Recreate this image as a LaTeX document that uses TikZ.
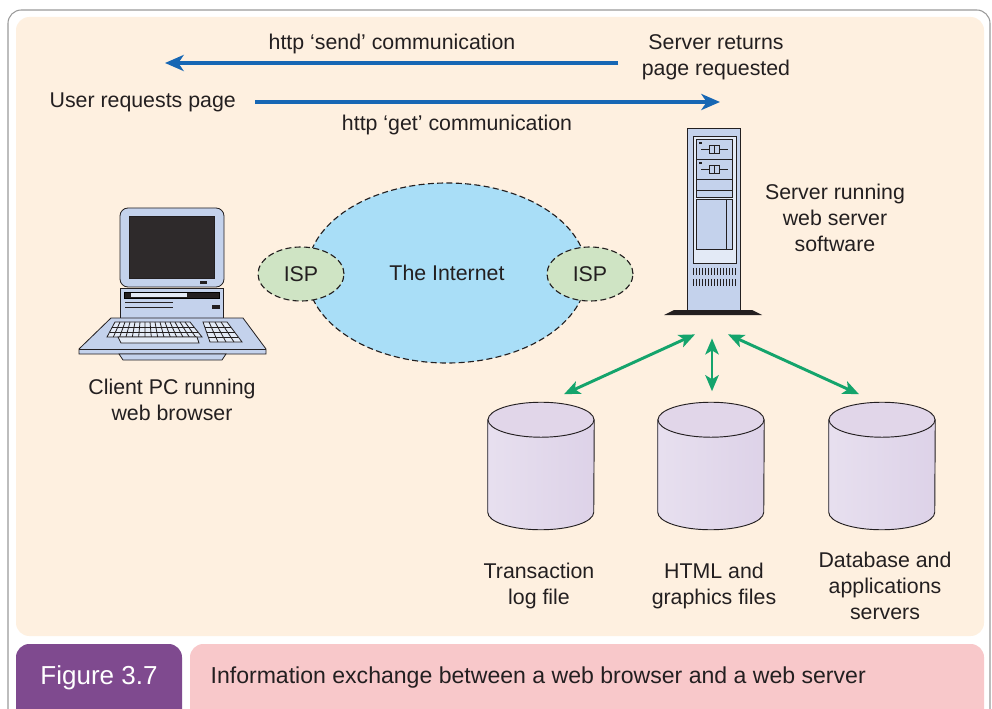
\documentclass[tikz,border=0pt]{standalone}
\usepackage{fontspec}
\setmainfont{Liberation Sans}
\usetikzlibrary{positioning,arrows.meta,shapes.geometric}
\definecolor{ink}{HTML}{231F20}
\definecolor{cream}{HTML}{FEF0E0}
\definecolor{framegray}{HTML}{9A9A9A}
\definecolor{httpblue}{HTML}{1767B4}
\definecolor{linkgreen}{HTML}{14A46C}
\definecolor{netblue}{HTML}{A9DEF7}
\definecolor{ispgreen}{HTML}{CFE4C4}
\definecolor{devblue}{HTML}{C4D2EC}
\definecolor{devlight}{HTML}{E3EAF6}
\definecolor{lavtop}{HTML}{E1D6E9}
\definecolor{lavbody}{HTML}{DDD2E8}
\definecolor{figpurple}{HTML}{7F4A8F}
\definecolor{figpink}{HTML}{F8C8CA}

% storage drum drawn over an empty node of the same size
\newcommand{\drum}[1]{%
  \draw[ink, line width=0.7pt, left color=lavbody!70, middle color=white, right color=lavbody]
    ([yshift=-13.125pt]#1.north west) -- ([yshift=13.125pt]#1.south west)
    arc[start angle=180, end angle=360, x radius=39.75pt, y radius=13.125pt]
    -- ([yshift=-13.125pt]#1.north east) -- cycle;
  \draw[ink, line width=0.7pt, fill=lavtop]
    ([yshift=-13.125pt]#1.north) ellipse [x radius=39.75pt, y radius=13.125pt];
}

\begin{document}
\begin{tikzpicture}[
    x=0.75pt, y=-0.75pt,
    every node/.style={font=\fontsize{16}{19.5}\selectfont, text=ink, inner sep=1pt},
    txt/.style={align=center},
    net/.style={ellipse, draw=ink, dash pattern=on 4.5pt off 2.5pt, line width=0.85pt, fill=netblue, minimum width=210pt, minimum height=135pt},
    isp/.style={ellipse, draw=ink, dash pattern=on 4.5pt off 2.5pt, line width=0.85pt, fill=ispgreen, minimum width=64.5pt, minimum height=40.5pt},
    dev/.style={draw=ink, line width=0.6pt, fill=devblue},
    tower/.style={draw=ink, line width=0.6pt, fill=devblue, minimum width=39.75pt, minimum height=136.5pt, inner sep=0pt},
    disk/.style={rectangle, minimum width=79.5pt, minimum height=95.25pt, inner sep=0pt},
    flow/.style={-{Stealth[length=14pt,width=12pt,inset=4pt]}, draw=httpblue, line width=2.6pt},
    link/.style={{Stealth[length=12pt,width=10pt,inset=3pt]}-{Stealth[length=12pt,width=10pt,inset=3pt]}, draw=linkgreen, line width=2.2pt}
  ]
  \clip (0,0) rectangle (992,709);

  % frame and panel
  \draw[framegray, line width=0.8pt, fill=white, rounded corners=10] (8,10) rectangle (990,740);
  \fill[cream, rounded corners=10] (16,17) rectangle (984,636);

  % http traffic
  \node (send) at (392,44) {http ‘send’ communication};
  \node[txt] (ret) at (716,57) {Server returns\\page requested};
  \node[anchor=west] (usr) at (48,102) {User requests page};
  \node (get) at (457,125) {http ‘get’ communication};
  \coordinate (sendend) at (165,63);
  \coordinate (getend) at (720,102);
  \draw[flow] ([shift={(-22,6)}]ret.west) -- (sendend);
  \draw[flow] ([shift={(18,0)}]usr.east) -- (getend);

  % client PC
  \draw[dev, rounded corners=6] (120,208) rectangle (224,287);
  \draw[ink, fill=ink!95] (129,216) rectangle (214,278);
  \fill[ink] (200,281) rectangle (207,284);
  \draw[dev] (120,288) rectangle (223,318);
  \draw[fill=ink] (124,292) rectangle (219,298);
  \fill[devlight] (131,293) rectangle (187,297);
  \draw[ink, line width=0.6pt] (125,302) -- (173,302) (125,307) -- (173,307);
  \fill[ink] (212,305) rectangle (220,309);
  \draw[dev] (111,318) -- (243,318) -- (266,349) -- (266,354) -- (79,354) -- (79,349) -- cycle;
  \draw[ink, line width=0.6pt] (79,349) -- (266,349);
  \draw[dev] (119,354) -- (226,354) -- (222,360) -- (123,360) -- cycle;
  % keyboard
  \draw[ink, fill=devlight, line width=0.6pt] (115,322) -- (190,322) -- (202,337) -- (107,337) -- cycle;
  \foreach \i in {1,...,14}
    \draw[ink, line width=0.6pt] (115+5*\i,322) -- (107+6.33*\i,337);
  \draw[ink, line width=0.6pt] (112.3,327) -- (194,327) (109.7,332) -- (198,332);
  \draw[ink, fill=devlight, line width=0.6pt] (118,337) -- (197,337) -- (199,343) -- (121,343) -- cycle;
  \draw[ink, fill=devlight, line width=0.6pt] (203,322) -- (227,322) -- (242,342) -- (210,342) -- cycle;
  \foreach \i in {1,2,3}
    \draw[ink, line width=0.6pt] (203+6*\i,322) -- (210+8*\i,342);
  \foreach \t in {0.25,0.5,0.75}
    \draw[ink, line width=0.6pt] (203+7*\t,322+20*\t) -- (227+15*\t,322+20*\t);
  \node[txt] (pc) at (172,400) {Client PC running\\web browser};

  % internet and ISPs
  \node[net] (inet) at (447,273) {The Internet};
  \node[isp] (ispl) at (301,274) {ISP};
  \node[isp] (ispr) at (590,274) {ISP};

  % web server
  \node[tower] (srv) at (713.5,219) {};
  \draw[ink, fill=devlight, line width=0.6pt] (693,136) rectangle (736,263);
  \foreach \y in {139,159} {
    \draw[dev] (696,\y) rectangle (732,\y+20);
    \fill[ink] (699,\y+3) rectangle (702,\y+5);
    \draw[ink, line width=0.5pt] (701,\y+10) -- (728,\y+10);
    \draw[ink, fill=devblue, line width=0.5pt] (709,\y+6) rectangle (719,\y+14);
    \draw[ink, line width=0.5pt] (714,\y+6) -- (714,\y+14);
  }
  \draw[dev] (696,179) rectangle (732,190);
  \draw[dev] (696,190) rectangle (732,197);
  \draw[dev] (696,199) rectangle (732,249);
  \draw[ink, line width=0.6pt] (726,199) -- (726,249);
  \foreach \x in {693,696,...,735}
    \draw[ink, line width=0.6pt] (\x,268) -- (\x,275) (\x,279) -- (\x,286);
  \fill[ink] (664,315) -- (674,310) -- (752,310) -- (762,315) -- cycle;
  \node[txt] (srvtxt) at (835,218) {Server running\\web server\\software};

  % storage
  \node[disk] (log) at (541,466) {};
  \node[disk] (html) at (711,466) {};
  \node[disk] (db) at (882,466) {};
  \drum{log}
  \drum{html}
  \drum{db}
  \node[txt] (logtxt) at (539,586) {Transaction\\log file};
  \node[txt] (htmltxt) at (714,586) {HTML and\\graphics files};
  \node[txt] (dbtxt) at (885,586) {Database and\\applications\\servers};

  \draw[link] ([shift={(-18.5,24)}]srv.south) -- ([shift={(23,-8)}]log.north);
  \draw[link] ([shift={(-1.5,28)}]srv.south) -- ([shift={(1,-11)}]html.north);
  \draw[link] ([shift={(14.5,24)}]srv.south) -- ([shift={(-23,-8)}]db.north);

  % caption bar
  \fill[figpurple, rounded corners=10] (16,644) rectangle (182,740);
  \fill[figpink, rounded corners=10] (190,644) rectangle (984,740);
  \node[text=white, font=\fontsize{19.5}{22}\selectfont] (fig) at (99,678) {Figure 3.7};
  \node[anchor=west, font=\fontsize{17.3}{21}\selectfont] (figtxt) at (209,678) {Information exchange between a web browser and a web server};
\end{tikzpicture}
\end{document}
